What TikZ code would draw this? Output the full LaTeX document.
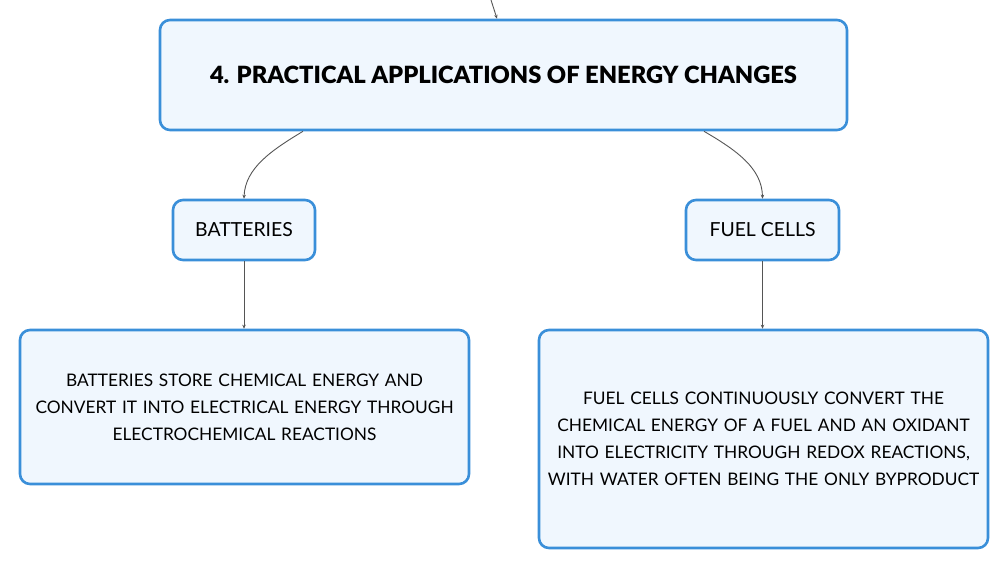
\documentclass[tikz,border=0pt]{standalone}
\usepackage{fontspec}
\setmainfont{Lato}
\newfontfamily\titlefont{Lato Black}
\usetikzlibrary{arrows.meta,calc}
\definecolor{bordc}{HTML}{3A8FD9}
\definecolor{fillc}{HTML}{F0F7FE}
\definecolor{linec}{HTML}{555555}
\tikzset{
  box/.style={draw=bordc, line width=2.6pt, fill=fillc, rounded corners=10pt, align=center, inner sep=0pt, text=black},
  conn/.style={draw=linec, line width=0.9pt, -{Stealth[length=4pt,width=3.5pt]}},
}
\begin{document}
\begin{tikzpicture}[x=1pt,y=-1pt]
\useasboundingbox (0,0) rectangle (1008,569);
\node[box, minimum width=687pt, minimum height=110pt, font=\fontsize{23.7}{26}\titlefont] (top) at (503.5,75) {4. PRACTICAL APPLICATIONS OF ENERGY CHANGES};
\node[box, minimum width=142pt, minimum height=60pt, font=\fontsize{19.4}{22}\selectfont] (bat) at (244,230) {BATTERIES};
\node[box, minimum width=153pt, minimum height=60pt, font=\fontsize{19.4}{22}\selectfont] (fuel) at (762.5,230) {FUEL CELLS};
\node[box, minimum width=449pt, minimum height=154pt, text width=440pt, font=\fontsize{17.3}{27}\selectfont] (batd) at (244.5,407) {BATTERIES STORE CHEMICAL ENERGY AND\\CONVERT IT INTO ELECTRICAL ENERGY THROUGH\\ELECTROCHEMICAL REACTIONS};
\node[box, minimum width=449pt, minimum height=218pt, text width=444pt, font=\fontsize{17.3}{27}\selectfont] (fueld) at (763.5,439) {FUEL CELLS CONTINUOUSLY CONVERT THE\\CHEMICAL ENERGY OF A FUEL AND AN OXIDANT\\INTO ELECTRICITY THROUGH REDOX REACTIONS,\\WITH WATER OFTEN BEING THE ONLY BYPRODUCT};
\coordinate (in) at (491,0);
\draw[conn] (in) -- (top.north -| 497,0);
\draw[conn] (top.south -| 303,0) .. controls (272,150) and (245,168) .. (bat.north);
\draw[conn] (top.south -| 704,0) .. controls (736,150) and (762,168) .. (fuel.north);
\draw[conn] (bat.south) -- (batd.north -| bat.south);
\draw[conn] (fuel.south) -- (fueld.north -| fuel.south);
\end{tikzpicture}
\end{document}
